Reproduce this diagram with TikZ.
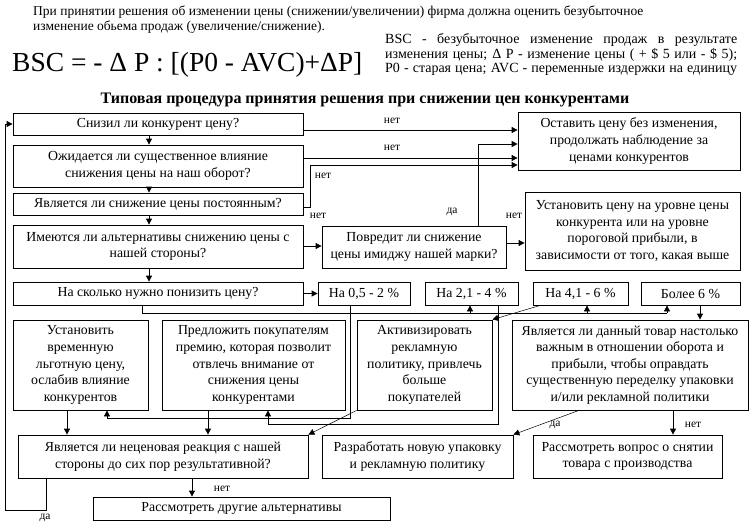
\documentclass[tikz,border=0pt]{standalone}
\usepackage{fontspec}
\setmainfont{Liberation Serif}
\usetikzlibrary{arrows.meta}
\begin{document}
\begin{tikzpicture}[x=1pt,y=-1pt,
 box/.style={draw, line width=0.8pt, inner sep=0pt, align=center, font=\fontsize{13.8}{16.6}\selectfont},
 arr/.style={-{Triangle[length=6pt,width=6pt]}, line width=0.8pt},
 ln/.style={line width=0.8pt},
 thin arr/.style={-{Triangle[length=6pt,width=6pt]}, line width=0.5pt},
 lbl/.style={font=\fontsize{11.5}{13}\selectfont, inner sep=0pt},
 txt/.style={inner sep=0pt, font=\fontsize{13.5}{15}\selectfont},
 deftxt/.style={inner sep=0pt, font=\fontsize{14}{15}\selectfont}
]
\useasboundingbox (0,0) rectangle (750,525);
% header
\node[txt, anchor=west] (h1) at (33,12) {При принятии решения об изменении цены (снижении/увеличении) фирма должна оценить безубыточное};
\node[txt, anchor=west] (h2) at (33,27) {изменение обьема продаж (увеличение/снижение).};
\node[inner sep=0pt, anchor=west, font=\fontsize{27.5}{30}\selectfont] (f) at (12,65) {BSC = - Δ P : [(P0 - AVC)+ΔP]};
\node[deftxt, anchor=west] (d1l) at (385,40) {\hbox to 352pt{BSC - безубыточное изменение продаж в результате}};
\node[deftxt, anchor=west] (d2l) at (385,54.5) {\hbox to 352pt{изменения цены; Δ P - изменение цены ( + \$ 5 или - \$ 5);}};
\node[deftxt, anchor=west] (d3l) at (385,69) {\hbox to 352pt{P0 - старая цена; AVC - переменные издержки на единицу}};
\node[inner sep=0pt, font=\bfseries\fontsize{16}{18}\selectfont] (title) at (365,100) {Типовая процедура принятия решения при снижении цен конкурентами};
% left column
\node[box, minimum width=290, minimum height=22] (b1) at (158,124) {Снизил ли конкурент цену?};
\node[box, minimum width=290, minimum height=42] (b2) at (158,166) {Ожидается ли существенное влияние\\снижения цены на наш оборот?};
\node[box, minimum width=290, minimum height=22] (b3) at (158,204) {Является ли снижение цены постоянным?};
\node[box, minimum width=290, minimum height=43] (b4) at (158,246.5) {Имеются ли альтернативы снижению цены с\\нашей стороны?};
\node[box, minimum width=290, minimum height=23] (b5) at (158,293.5) {На сколько нужно понизить цену?};
% right
\node[box, minimum width=222, minimum height=58] (r1) at (629,141) {Оставить цену без изменения,\\продолжать наблюдение за\\ценами конкурентов};
\node[box, minimum width=184, minimum height=42] (r2) at (414,247) {Повредит ли снижение\\цены имиджу нашей марки?};
\node[box, minimum width=215, minimum height=78] (r3) at (632.5,231) {Установить цену на уровне цены\\конкурента или на уровне\\пороговой прибыли, в\\зависимости от того, какая выше};
% percent
\node[box, minimum width=92, minimum height=23] (p1) at (364,293.5) {На 0,5 - 2 \%};
\node[box, minimum width=93, minimum height=23] (p2) at (471.5,293.5) {На 2,1 - 4 \%};
\node[box, minimum width=95, minimum height=23] (p3) at (580.5,293.5) {На 4,1 - 6 \%};
\node[box, minimum width=99, minimum height=23] (p4) at (690.5,293.5) {Более 6 \%};
% L row
\node[box, minimum width=135, minimum height=90] (l1) at (80.5,365) {Установить\\временную\\льготную цену,\\ослабив влияние\\конкурентов};
\node[box, minimum width=183, minimum height=90] (l2) at (253.5,365) {Предложить покупателям\\премию, которая позволит\\отвлечь внимание от\\снижения цены\\конкурентами};
\node[box, minimum width=135, minimum height=90] (l3) at (424.5,365) {Активизировать\\рекламную\\политику, привлечь\\больше\\покупателей};
\node[box, minimum width=236, minimum height=90] (l4) at (630,365) {Является ли данный товар настолько\\важным в отношении оборота и\\прибыли, чтобы оправдать\\существенную переделку упаковки\\и/или рекламной политики};
% bottom
\node[box, minimum width=290, minimum height=43] (q) at (163,456.5) {Является ли неценовая реакция с нашей\\стороны до сих пор результативной?};
\node[box, minimum width=191, minimum height=43] (d1) at (417.5,456.5) {Разработать новую упаковку\\и рекламную политику};
\node[box, minimum width=189, minimum height=43] (d2) at (627.5,456.5) {Рассмотреть вопрос о снятии\\товара с производства};
\node[box, minimum width=297, minimum height=23] (z) at (241.5,508.5) {Рассмотреть другие альтернативы};
% coordinates
\coordinate (c1) at (5,124);
\coordinate (c2) at (142,313);
% vertical chain
\draw[arr] (b1.south -| 149,0) -- (b2.north -| 149,0);
\draw[arr] (b2.south -| 149,0) -- (b3.north -| 149,0);
\draw[arr] (b3.south -| 149,0) -- (b4.north -| 149,0);
\draw[arr] (b4.south -| 149,0) -- (b5.north -| 149,0);
% to r1
\draw[arr] (b1.east |- 0,130) -- (r1.west |- 0,130);
\node[lbl] (n1) at (392,121) {нет};
\draw[arr] (b2.east |- 0,158) -- (r1.west |- 0,158);
\node[lbl] (n2) at (392,148) {нет};
\draw[arr] (b3.east |- 0,207) -- (310,207) -- (310,165) -- (r1.west |- 0,165);
\node[lbl] (n3) at (323,176) {нет};
\draw[arr] (r2.north -| 478,0) -- (478,144) -- (r1.west |- 0,144);
\node[lbl] (y1) at (452,212) {да};
\draw[arr] (b4.east |- 0,246) -- (r2.west |- 0,246);
\node[lbl] (n4) at (318,216) {нет};
\draw[arr] (r2.east |- 0,243) -- (r3.west |- 0,243);
\node[lbl] (n5) at (514,216) {нет};
% percent
\draw[arr] (b5.east) -- (p1.west);
\draw[ln] (b5.south -| c2) -- (c2) -- (667,313);
\draw[arr] (470,313) -- (p2.south -| 470,0);
\draw[arr] (587,313) -- (p3.south -| 587,0);
\draw[arr] (667,313) -- (p4.south -| 667,0);
\draw[arr] (p4.south -| 700,0) -- (l4.north -| 700,0);
\draw[arr] (p1.south -| 350,0) -- (350,418) -- (107,418) -- (l1.south -| 107,0);
\draw[arr] (p2.south -| 498,0) -- (498,424) -- (268,424) -- (l2.south -| 268,0);
\draw[thin arr] (540,305.5) -- (l3.north east);
% to q
\draw[arr] (l1.south -| 67,0) -- (q.north -| 67,0);
\draw[arr] (l2.south -| 208,0) -- (q.north -| 208,0);
\draw[thin arr] (l3.south west) -- (q.north east);
\draw[thin arr] (580,410) -- (d1.north east);
\node[lbl] (y2) at (555,425) {да};
\draw[arr] (l4.south -| 673,0) -- (d2.north -| 673,0);
\node[lbl] (n6) at (693,425) {нет};
\draw[arr] (q.south -| 192,0) -- (z.north -| 192,0);
\node[lbl] (n7) at (222,489) {нет};
\draw[arr] (q.south -| 46,0) -- (46,510) -- (5,510) -- (c1) -- (b1.west);
\node[lbl] (y3) at (45,518) {да};
\end{tikzpicture}
\end{document}
